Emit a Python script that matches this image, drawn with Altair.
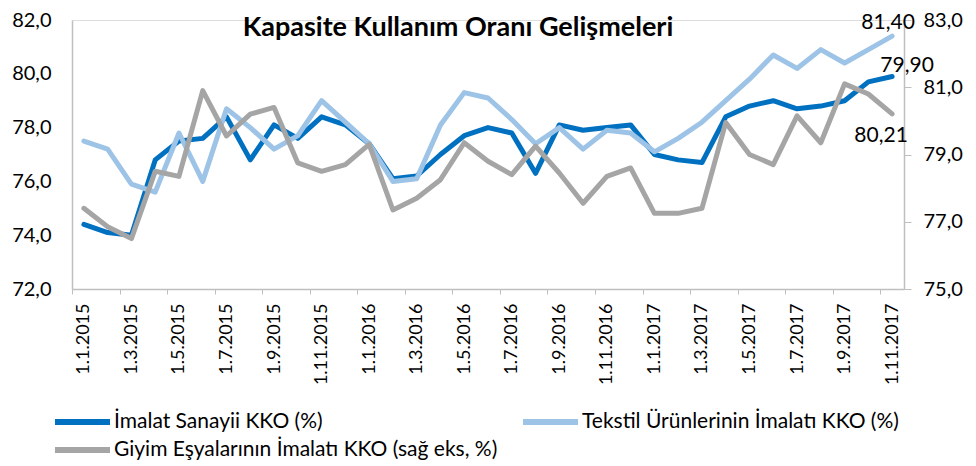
import json
import altair as alt
import pandas as pd

title_text = "Kapasite Kullanım Oranı Gelişmeleri"
s_imalat = "İmalat Sanayii KKO (%)"
s_tekstil = "Tekstil Ürünlerinin İmalatı KKO (%)"
s_giyim = "Giyim Eşyalarının İmalatı KKO (sağ eks, %)"

tick_labels = ["1.1.2015", "1.3.2015", "1.5.2015", "1.7.2015", "1.9.2015", "1.11.2015",
               "1.1.2016", "1.3.2016", "1.5.2016", "1.7.2016", "1.9.2016", "1.11.2016",
               "1.1.2017", "1.3.2017", "1.5.2017", "1.7.2017", "1.9.2017", "1.11.2017"]

imalat = [74.4, 74.1, 74.0, 76.8, 77.5, 77.6, 78.4, 76.8, 78.1, 77.6, 78.4, 78.1,
          77.4, 76.1, 76.2, 77.0, 77.7, 78.0, 77.8, 76.3, 78.1, 77.9, 78.0, 78.1,
          77.0, 76.8, 76.7, 78.4, 78.8, 79.0, 78.7, 78.8, 79.0, 79.7, 79.9]
tekstil = [77.5, 77.2, 75.9, 75.6, 77.8, 76.0, 78.7, 78.0, 77.2, 77.7, 79.0, 78.2,
           77.4, 76.0, 76.1, 78.1, 79.3, 79.1, 78.3, 77.4, 78.0, 77.2, 77.9, 77.8,
           77.1, 77.6, 78.2, 79.0, 79.8, 80.7, 80.2, 80.9, 80.4, 80.9, 81.4]
giyim = [77.4, 76.85, 76.5, 78.5, 78.35, 80.9, 79.55, 80.2, 80.4, 78.75, 78.5, 78.7,
         79.3, 77.35, 77.7, 78.25, 79.35, 78.8, 78.4, 79.25, 78.45, 77.55, 78.35, 78.6,
         77.25, 77.25, 77.4, 79.95, 79.0, 78.7, 80.15, 79.35, 81.1, 80.8, 80.21]

series_names = [s_imalat, s_tekstil, s_giyim]
colors = ["#0070C0", "#9DC3E6", "#A5A5A5"]

n = len(imalat)
rows = []
for name, vals in zip(series_names, [imalat, tekstil, giyim]):
    for i, v in enumerate(vals):
        rows.append({"idx": i, "series": name, "value": v})
df = pd.DataFrame(rows)


def fmt2(v):
    return f"{v:.2f}".replace(".", ",")


last_tek = pd.DataFrame([{"idx": n - 1, "value": tekstil[-1], "label": fmt2(tekstil[-1])}])
last_ima = pd.DataFrame([{"idx": n - 1, "value": imalat[-1], "label": fmt2(imalat[-1])}])
last_giy = pd.DataFrame([{"idx": n - 1, "value": giyim[-1], "label": fmt2(giyim[-1])}])

FONT = "Lato"
W, H = 832, 269
half_band = W / n / 2

x_label_expr = json.dumps(tick_labels) + "[round((datum.value + 0.5) / 2)]"
x_enc = alt.X(
    "idx:Q",
    scale=alt.Scale(domain=[-0.5, n - 0.5], nice=False, zero=False),
    axis=alt.Axis(
        values=[-0.5 + 2 * k for k in range(len(tick_labels))],
        labelExpr=x_label_expr,
        labelAngle=-90,
        labelOffset=half_band,
        labelFontSize=18,
        labelPadding=9,
        tickSize=5,
        tickColor="#BFBFBF",
        domainColor="#BFBFBF",
        domainWidth=1.5,
        grid=False,
        title=None,
        labelColor="#000000",
        labelFont=FONT,
    ),
)

num_expr = "replace(format(datum.value, '.1f'), '.', ',')"

color_enc = alt.Color(
    "series:N",
    scale=alt.Scale(domain=series_names, range=colors),
    legend=alt.Legend(
        title=None,
        orient="none",
        direction="horizontal",
        legendX=-20,
        legendY=388,
        columns=2,
        columnPadding=22,
        rowPadding=0,
        clipHeight=28,
        symbolType="stroke",
        symbolSize=3025,
        symbolStrokeWidth=6,
        labelFontSize=21,
        labelFont=FONT,
        labelColor="#000000",
        labelOffset=1,
        labelLimit=600,
        padding=0,
    ),
)

yl_scale = alt.Scale(domain=[72, 82], nice=False, zero=False)
yl_axis = alt.Axis(
    values=[72, 74, 76, 78, 80, 82],
    labelExpr=num_expr,
    ticks=False,
    labelPadding=21,
    labelFontSize=20,
    labelFont=FONT,
    labelColor="#000000",
    domainColor="#BFBFBF",
    domainWidth=1.5,
    grid=False,
    title=None,
)
yr_scale = alt.Scale(domain=[75, 83], nice=False, zero=False)
yr_axis = alt.Axis(
    orient="right",
    values=[75, 77, 79, 81, 83],
    labelExpr=num_expr,
    tickSize=7,
    tickColor="#BFBFBF",
    labelPadding=12,
    labelFontSize=20,
    labelFont=FONT,
    labelColor="#000000",
    domainColor="#BFBFBF",
    domainWidth=1.5,
    grid=False,
    title=None,
)

base = alt.Chart(df)
line_kw = dict(strokeWidth=5, strokeJoin="round", strokeCap="round")

dark = base.transform_filter(alt.datum.series == s_imalat).mark_line(**line_kw).encode(
    x=x_enc, y=alt.Y("value:Q", scale=yl_scale, axis=yl_axis), color=color_enc)
light = base.transform_filter(alt.datum.series == s_tekstil).mark_line(**line_kw).encode(
    x=x_enc, y=alt.Y("value:Q", scale=yl_scale), color=color_enc)

lbl_kw = dict(fontSize=21, font=FONT, color="#000000")
lbl_tek = alt.Chart(last_tek).mark_text(dx=-4, dy=-13, **lbl_kw).encode(
    x="idx:Q", y=alt.Y("value:Q", scale=yl_scale), text="label:N")
lbl_ima = alt.Chart(last_ima).mark_text(dx=15, dy=-10, **lbl_kw).encode(
    x="idx:Q", y=alt.Y("value:Q", scale=yl_scale), text="label:N")

left = alt.layer(dark, light, lbl_tek, lbl_ima)

grey = base.transform_filter(alt.datum.series == s_giyim).mark_line(**line_kw).encode(
    x=x_enc, y=alt.Y("value:Q", scale=yr_scale, axis=yr_axis), color=color_enc)
lbl_giy = alt.Chart(last_giy).mark_text(dx=-11, dy=22, **lbl_kw).encode(
    x="idx:Q", y=alt.Y("value:Q", scale=yr_scale), text="label:N")
right = alt.layer(grey, lbl_giy)

title_mark = alt.Chart(pd.DataFrame({"t": [title_text]})).mark_text(
    fontSize=27, fontWeight="bold", font=FONT, color="#000000", baseline="middle", align="center"
).encode(text="t:N", x=alt.value(386), y=alt.value(8))

chart = alt.layer(left, right, title_mark).resolve_scale(y="independent").properties(
    width=W, height=H,
    padding={"left": 64, "top": 12, "right": 64, "bottom": 177},
    autosize=alt.AutoSizeParams(type="none"),
).configure_view(stroke=None).configure(background="white")

chart.save("out.html", embed_options={"renderer": "svg", "actions": False})
